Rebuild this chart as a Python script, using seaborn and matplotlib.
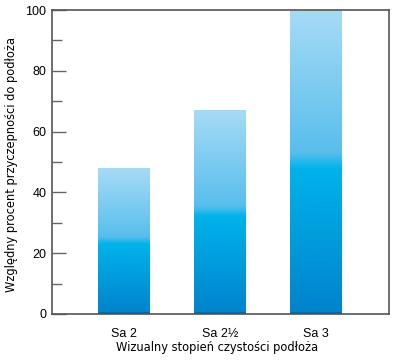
import numpy as np
import matplotlib
matplotlib.use("Agg")
import matplotlib.pyplot as plt
import seaborn as sns
import pandas as pd
from matplotlib.colors import LinearSegmentedColormap
from matplotlib.ticker import MultipleLocator

categories = ["Sa 2", "Sa 2½", "Sa 3"]
tick_labels = ["Sa 2", "Sa 2½", "Sa 3"]
values = [48, 67, 100]
y_ticks = [0, 20, 40, 60, 80, 100]

sns.set_theme(style="white")
plt.rcParams['font.family'] = ['Liberation Sans', 'DejaVu Sans']
plt.rcParams['text.color'] = 'black'
plt.rcParams['axes.labelcolor'] = 'black'
plt.rcParams['xtick.color'] = 'black'
plt.rcParams['ytick.color'] = 'black'

fig = plt.figure(figsize=(4, 3.64), dpi=100)
ax = fig.add_axes([0.13, 0.1374, 0.8425, 0.835])
df = pd.DataFrame({"cat": categories, "val": values})
sns.barplot(data=df, x="cat", y="val", ax=ax, width=0.54, color="#00b4ec",
            saturation=1)

cmap = LinearSegmentedColormap.from_list(
    "g", [(0, "#a6dbf6"), (0.47, "#58beec"), (0.52, "#00b3ea"), (1, "#0083cb")])
grad = np.linspace(0, 1, 256).reshape(-1, 1)
for p in list(ax.patches):
    x0, y0, w, h = p.get_x(), p.get_y(), p.get_width(), p.get_height()
    im = ax.imshow(grad, cmap=cmap, extent=[x0, x0 + w, y0, y0 + h],
                   origin='upper', aspect='auto', zorder=p.get_zorder(),
                   interpolation='bilinear')
    im.set_clip_path(p)
    p.set_facecolor('none')
    p.set_edgecolor('none')
    ax.plot([x0, x0 + w], [0.4, 0.4], color="#0068a8", lw=1.2, zorder=3,
            solid_capstyle='butt')

ax.set_xlim(-0.75, 2.76)
ax.set_ylim(0, 100)
ax.set_yticks(y_ticks)
ax.yaxis.set_minor_locator(MultipleLocator(10))
ax.set_xticks(range(len(categories)))
ax.set_xticklabels(tick_labels)
ax.tick_params(axis='y', which='major', direction='in', length=10, width=1,
               color='#666666', labelcolor='black', labelsize=9, pad=4, left=True)
ax.tick_params(axis='y', which='minor', direction='in', length=7, width=1,
               color='#666666', left=True)
ax.tick_params(axis='x', length=0, labelsize=9, labelcolor='black', pad=10)
for s in ax.spines.values():
    s.set_color('#555555')
    s.set_linewidth(1.2)
    s.set_visible(True)

ax.set_xlabel("Wizualny stopień czystości podłoża", family='DejaVu Sans',
              fontstretch='condensed', fontsize=9.2, color='black', va='center')
ax.set_ylabel("Względny procent przyczepności do podłoża", family='DejaVu Sans',
              fontstretch='condensed', fontsize=9.2, color='black', va='center')
ax.xaxis.set_label_coords(0.491, -0.109)
ax.yaxis.set_label_coords(-0.119, 0.493)

fig.savefig("out.png", dpi=100)
